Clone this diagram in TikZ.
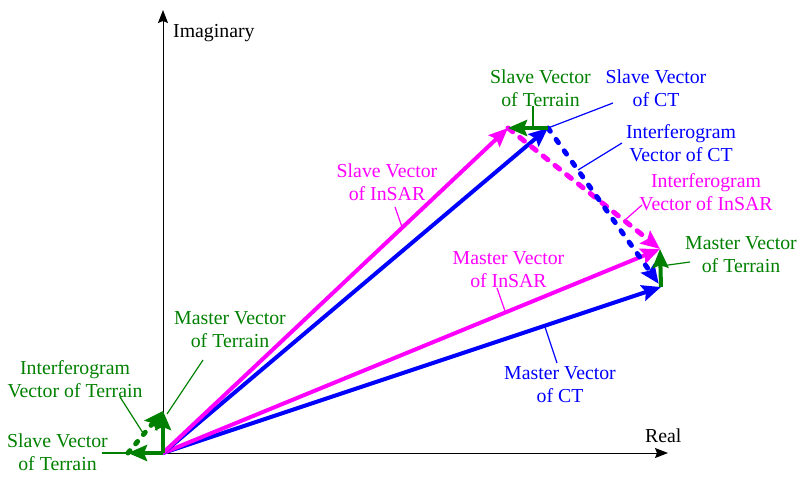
\documentclass[tikz,border=0pt]{standalone}
\usepackage{fontspec}
\setmainfont{Liberation Serif}
\usetikzlibrary{arrows.meta}
\definecolor{tgreen}{RGB}{0,128,0}
\definecolor{tblue}{RGB}{0,0,255}
\definecolor{tmag}{RGB}{255,0,255}
\begin{document}
\begin{tikzpicture}[x=1pt,y=-1pt,
  axis/.style={line width=1pt,black,-{Stealth[length=13pt,width=10pt,inset=2pt]}},
  vec/.style={line width=4pt,-{Stealth[length=19pt,width=16pt,inset=3pt]}},
  ivec/.style={line width=5pt,line cap=round,dash pattern=on 6pt off 9pt,-{Stealth[length=19pt,width=16pt,inset=3pt]}},
  lead/.style={line width=1.2pt},
  lbl/.style={align=center,inner sep=0pt,font=\fontsize{19.8}{23}\selectfont}]
\useasboundingbox (0,0) rectangle (801,477);
% key points
\coordinate (O) at (163,453);
\coordinate (SI) at (508,128);
\coordinate (SC) at (548,128);
\coordinate (MI) at (660,249);
\coordinate (MC) at (661,287);
\coordinate (TM) at (163,411);
\coordinate (TS) at (128,453);
\coordinate (Ytop) at (163,10);
\coordinate (Xend) at (668,453);
% axes
\draw[axis] (O) -- (Ytop);
\draw[axis] (O) -- (Xend);
\node[lbl,anchor=base west] (yl) at (173,37) {Imaginary};
\node[lbl,anchor=base west] (xl) at (645,442) {Real};
% vectors
\draw[vec,tblue] (O) -- (MC);
\draw[vec,tmag] (O) -- (MI);
\draw[vec,tblue] (O) -- (SC);
\draw[vec,tmag] (O) -- (SI);
\draw[ivec,tmag] (SI) -- (MI);
\draw[ivec,tblue,dash pattern=on 4pt off 10pt,shorten >=4pt] (SC) -- (MC);
\draw[vec,tgreen] (SC) -- (SI);
\draw[vec,tgreen] (MC) -- (MI);
\draw[ivec,tgreen,dash pattern=on 3pt off 9pt] (TS) -- (TM);
\draw[vec,tgreen] (O) -- (TM);
\draw[vec,tgreen] (O) -- (TS);
% labels
\node[lbl,text=tgreen] (l1) at (540.5,88) {Slave Vector\\of Terrain};
\node[lbl,text=tblue] (l2) at (656,88) {Slave Vector\\of CT};
\node[lbl,text=tblue] (l3) at (681,143) {Interferogram\\Vector of CT};
\node[lbl,text=tmag] (l4) at (706,192) {Interferogram\\Vector of InSAR};
\node[lbl,text=tgreen] (l5) at (741,255) {Master Vector\\of Terrain};
\node[lbl,text=tblue] (l6) at (560,385) {Master Vector\\of CT};
\node[lbl,text=tmag] (l7) at (508.5,270) {Master Vector\\of InSAR};
\node[lbl,text=tmag] (l8) at (387,182) {Slave Vector\\of InSAR};
\node[lbl,text=tgreen] (l9) at (230,330) {Master Vector\\of Terrain};
\node[lbl,text=tgreen] (l10) at (75,379) {Interferogram\\Vector of Terrain};
\node[lbl,text=tgreen] (l11) at (57.5,452) {Slave Vector\\of Terrain};
% leader coordinates
\coordinate (a1) at (533,106); \coordinate (b1) at (533,128);
\coordinate (a2) at (613,103);
\coordinate (a3) at (622,143); \coordinate (b3) at (578,170);
\coordinate (a4) at (642,205); \coordinate (b4) at (625,220);
\coordinate (a5) at (690,262); \coordinate (b5) at (661,266);
\coordinate (a6) at (557,363); \coordinate (b6) at (545,327);
\coordinate (a7) at (497,288); \coordinate (b7) at (505,311);
\coordinate (a8) at (395,207); \coordinate (b8) at (402,227);
\coordinate (a9) at (203,360); \coordinate (b9) at (167,414);
\coordinate (a10) at (120,397); \coordinate (b10) at (143,433);
\coordinate (a11) at (102,453);
% leaders
\draw[lead,tgreen] (a1) -- (b1);
\draw[lead,tblue] (a2) -- (SC);
\draw[lead,tblue] (a3) -- (b3);
\draw[lead,tmag] (a4) -- (b4);
\draw[lead,tgreen] (a5) -- (b5);
\draw[lead,tblue] (a6) -- (b6);
\draw[lead,tmag] (a7) -- (b7);
\draw[lead,tmag] (a8) -- (b8);
\draw[lead,tgreen] (a9) -- (b9);
\draw[lead,tgreen] (a10) -- (b10);
\draw[lead,tgreen] (a11) -- (TS);
\end{tikzpicture}
\end{document}
